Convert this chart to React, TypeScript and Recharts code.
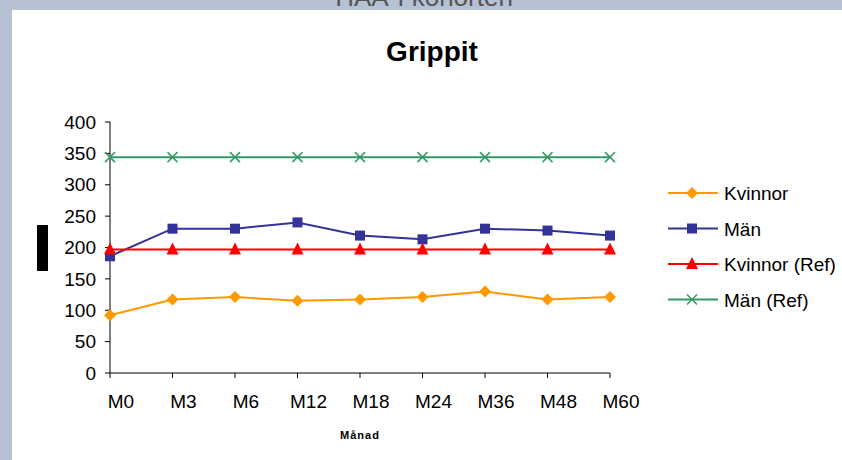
import { LineChart, Line, XAxis, YAxis, Legend } from 'recharts'

const months = ['M0', 'M3', 'M6', 'M12', 'M18', 'M24', 'M36', 'M48', 'M60']
const kvinnor = [92, 117, 121, 115, 117, 121, 130, 117, 121]
const man = [186, 230, 230, 240, 219, 213, 230, 227, 219]
const kvinnorRef = [197, 197, 197, 197, 197, 197, 197, 197, 197]
const manRef = [344, 344, 344, 344, 344, 344, 344, 344, 344]
const yTicks = [0, 50, 100, 150, 200, 250, 300, 350, 400]

const FONT = '"Liberation Sans", Arial, Helvetica, sans-serif'

const data = months.map((m, i) => ({
  month: m,
  kvinnor: kvinnor[i],
  man: man[i],
  kvinnorRef: kvinnorRef[i],
  manRef: manRef[i],
}))

const SERIES = [
  { key: 'kvinnor', name: 'Kvinnor', color: '#FF9900', shape: 'diamond' },
  { key: 'man', name: 'Män', color: '#333399', shape: 'square' },
  { key: 'kvinnorRef', name: 'Kvinnor (Ref)', color: '#FF0000', shape: 'triangle' },
  { key: 'manRef', name: 'Män (Ref)', color: '#339966', shape: 'cross' },
]

function Marker({ shape, cx, cy, color }: { shape: string; cx: number; cy: number; color: string }) {
  if (shape === 'diamond') {
    return <polygon points={`${cx},${cy - 6} ${cx + 6},${cy} ${cx},${cy + 6} ${cx - 6},${cy}`} fill={color} />
  }
  if (shape === 'square') {
    return <rect x={cx - 5} y={cy - 5} width={10} height={10} fill={color} />
  }
  if (shape === 'triangle') {
    return <polygon points={`${cx},${cy - 7} ${cx + 6},${cy + 5} ${cx - 6},${cy + 5}`} fill={color} />
  }
  return (
    <g stroke={color} strokeWidth={1.5}>
      <line x1={cx - 5} y1={cy - 5} x2={cx + 5} y2={cy + 5} />
      <line x1={cx - 5} y1={cy + 5} x2={cx + 5} y2={cy - 5} />
    </g>
  )
}

function LegendBox() {
  return (
    <svg width={180} height={150} style={{ display: 'block' }}>
      {SERIES.map((s, i) => {
        const y = 15 + i * 35.5
        return (
          <g key={s.key}>
            <line x1={8} x2={58} y1={y} y2={y} stroke={s.color} strokeWidth={2} />
            <Marker shape={s.shape} cx={32} cy={y} color={s.color} />
            <text x={64} y={y + 7} fontSize={19} fontFamily={FONT} fill="#000">
              {s.name}
            </text>
          </g>
        )
      })}
    </svg>
  )
}

export default function App() {
  return (
    <div style={{ position: 'absolute', left: 0, top: 0, width: 842, height: 460, fontFamily: FONT }}>
      <svg width={842} height={460} style={{ position: 'absolute', left: 0, top: 0 }}>
        <rect x={0} y={0} width={842} height={460} fill="#B6C1D4" />
        <rect x={12} y={10} width={830} height={450} fill="#FFFFFF" />
        <text x={424} y={6} textAnchor="middle" fontSize={26} fill="#555" fontFamily={FONT}>
          HAA-I kohorten
        </text>
        <text x={432} y={61} textAnchor="middle" fontSize={28} fontWeight="bold" fill="#000" fontFamily={FONT}>
          Grippit
        </text>
        <text x={360} y={439} textAnchor="middle" fontSize={11} fontWeight="bold" letterSpacing={1} fill="#000" fontFamily={FONT}>
          Månad
        </text>
        <rect x={37} y={225} width={11} height={46} fill="#000" />
      </svg>
      <div style={{ position: 'absolute', left: 0, top: 0 }}>
        <LineChart width={842} height={460} data={data} margin={{ top: 122, right: 232, bottom: 57, left: 20 }}>
          <XAxis
            dataKey="month"
            padding={{ left: 0, right: 0 }}
            height={30}
            stroke="#000"
            tickSize={5}
            tickMargin={17}
            tick={{ fill: '#000', fontSize: 19, dx: 11, fontFamily: FONT }}
            interval={0}
          />
          <YAxis
            domain={[0, 400]}
            ticks={yTicks}
            width={90}
            stroke="#000"
            tickSize={5}
            tickMargin={9}
            tick={{ fill: '#000', fontSize: 19, fontFamily: FONT }}
            interval={0}
          />
          <Legend
            layout="vertical"
            align="center"
            verticalAlign="middle"
            wrapperStyle={{ left: 660, top: 178, width: 182 }}
            content={() => <LegendBox />}
          />
          {SERIES.map(s => (
            <Line
              key={s.key}
              dataKey={s.key}
              name={s.name}
              stroke={s.color}
              strokeWidth={2}
              isAnimationActive={false}
              dot={(p: any) => <Marker key={`${s.key}-${p.index}`} shape={s.shape} cx={p.cx} cy={p.cy} color={s.color} />}
              activeDot={false}
            />
          ))}
        </LineChart>
      </div>
    </div>
  )
}
